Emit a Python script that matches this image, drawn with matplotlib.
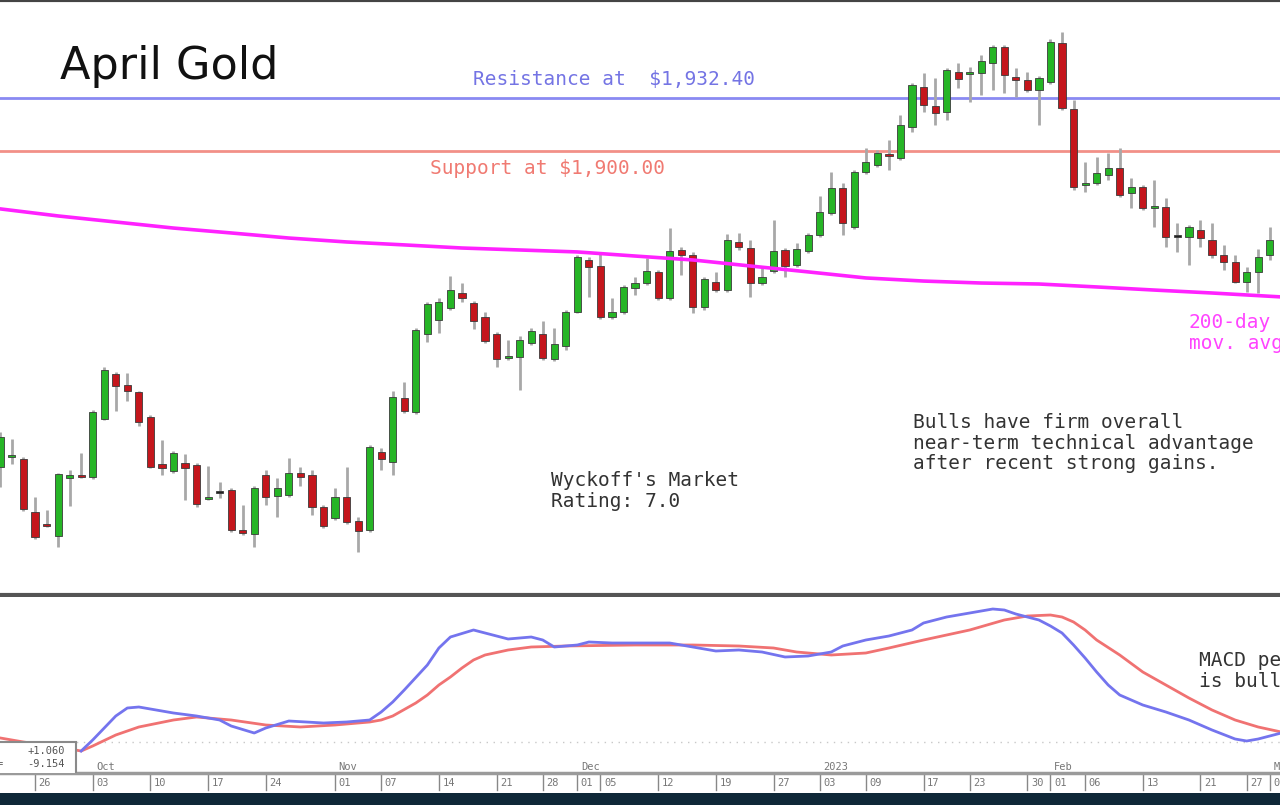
import matplotlib
matplotlib.use('Agg')
import matplotlib.pyplot as plt
import matplotlib.transforms as mtransforms
from matplotlib.patches import Rectangle
import numpy as np
import pandas as pd

# trading days on the chart (exchange holidays dropped), Sep 21 2022 .. Mar 2 2023
holidays = ['2022-11-24', '2022-12-26', '2023-01-02', '2023-01-16', '2023-02-20']
days = pd.bdate_range('2022-09-21', '2023-03-02')
days = days[~days.isin(pd.to_datetime(holidays))]

# daily candles, Sep 21 2022 .. Mar 1 2023
opens = [1706.9, 1713.0, 1711.8, 1679.4, 1672.0, 1664.7, 1700.1, 1702.0, 1700.8, 1736.2,
         1763.7, 1757.0, 1752.7, 1737.4, 1708.7, 1704.4, 1709.3, 1708.1, 1687.3, 1691.0,
         1692.8, 1668.4, 1665.9, 1702.0, 1689.1, 1689.8, 1703.2, 1702.0, 1682.4, 1675.7,
         1688.5, 1673.9, 1668.4, 1716.0, 1709.9, 1749.0, 1740.5, 1788.2, 1796.7, 1804.0,
         1813.2, 1807.1, 1798.5, 1788.2, 1773.5, 1774.1, 1782.7, 1788.2, 1772.9, 1780.8,
         1801.6, 1833.4, 1829.7, 1798.5, 1801.6, 1816.3, 1819.3, 1826.1, 1810.2, 1839.5,
         1836.4, 1804.7, 1819.9, 1815.0, 1844.4, 1840.7, 1819.3, 1826.7, 1839.5, 1830.3,
         1838.9, 1848.7, 1862.1, 1877.4, 1853.6, 1887.2, 1891.5, 1898.2, 1895.7, 1914.7,
         1939.1, 1927.5, 1923.8, 1948.3, 1947.1, 1947.7, 1953.8, 1963.6, 1945.2, 1943.4,
         1937.3, 1942.2, 1966.0, 1925.7, 1879.2, 1880.4, 1885.3, 1889.6, 1874.3, 1878.0,
         1865.2, 1865.8, 1847.4, 1847.4, 1851.7, 1845.6, 1836.4, 1832.2, 1819.9, 1826.1,
         1836.4]
highs = [1728.3, 1724.0, 1713.0, 1688.5, 1680.6, 1703.2, 1705.0, 1715.4, 1741.7, 1768.0,
         1764.9, 1764.3, 1753.3, 1738.7, 1723.4, 1716.6, 1714.8, 1709.3, 1707.5, 1697.7,
         1694.1, 1683.6, 1695.3, 1705.0, 1700.1, 1712.4, 1706.9, 1705.0, 1683.6, 1694.1,
         1706.9, 1676.3, 1720.3, 1718.5, 1753.3, 1758.8, 1791.8, 1807.7, 1810.2, 1823.6,
         1819.3, 1808.3, 1801.6, 1789.4, 1784.5, 1786.9, 1791.8, 1796.1, 1791.8, 1802.8,
         1836.4, 1835.2, 1838.3, 1810.2, 1818.1, 1823.0, 1834.6, 1827.3, 1852.9, 1841.3,
         1838.3, 1823.0, 1826.1, 1849.3, 1849.9, 1845.6, 1829.1, 1857.8, 1840.7, 1843.8,
         1849.9, 1872.5, 1887.2, 1880.4, 1888.4, 1901.8, 1900.6, 1906.7, 1922.0, 1941.6,
         1947.7, 1944.6, 1950.7, 1953.8, 1951.3, 1958.7, 1964.8, 1964.8, 1950.7, 1948.3,
         1945.8, 1968.5, 1972.7, 1931.2, 1893.3, 1896.3, 1898.8, 1901.8, 1883.5, 1879.2,
         1882.3, 1871.3, 1856.0, 1854.8, 1857.8, 1856.0, 1842.6, 1836.4, 1829.1, 1840.1,
         1853.6]
lows = [1694.6, 1708.7, 1680.0, 1662.9, 1670.2, 1658.0, 1683.0, 1700.1, 1699.5, 1735.6,
        1741.1, 1747.2, 1731.9, 1706.3, 1702.0, 1703.2, 1686.7, 1682.4, 1686.7, 1687.9,
        1667.1, 1665.3, 1658.0, 1683.6, 1676.3, 1688.5, 1695.3, 1677.5, 1669.6, 1674.5,
        1672.0, 1654.9, 1667.1, 1705.0, 1702.0, 1739.9, 1739.3, 1783.3, 1788.8, 1802.8,
        1807.7, 1791.2, 1782.7, 1768.0, 1772.3, 1753.9, 1781.4, 1772.3, 1771.7, 1778.4,
        1801.0, 1810.8, 1797.3, 1797.3, 1800.4, 1812.0, 1818.1, 1809.0, 1809.0, 1824.2,
        1801.0, 1802.8, 1813.8, 1813.8, 1839.5, 1810.8, 1818.1, 1825.4, 1823.0, 1829.1,
        1837.6, 1847.4, 1860.9, 1848.7, 1852.3, 1886.0, 1890.2, 1888.4, 1894.5, 1911.6,
        1923.8, 1915.9, 1918.9, 1938.5, 1930.0, 1934.2, 1937.3, 1935.5, 1933.0, 1936.1,
        1915.9, 1941.0, 1925.1, 1876.2, 1875.0, 1879.2, 1882.3, 1871.9, 1865.2, 1863.9,
        1853.6, 1841.3, 1838.3, 1830.3, 1841.3, 1834.6, 1827.3, 1819.3, 1813.8, 1813.2,
        1833.4]
closes = [1725.2, 1714.2, 1681.2, 1664.1, 1670.8, 1702.6, 1702.0, 1700.8, 1740.5, 1766.2,
          1756.4, 1753.3, 1734.4, 1706.9, 1706.3, 1715.4, 1706.3, 1684.2, 1688.5, 1691.0,
          1668.4, 1666.5, 1694.1, 1688.5, 1694.1, 1703.2, 1700.8, 1682.4, 1670.8, 1688.5,
          1673.2, 1667.8, 1719.1, 1711.8, 1749.7, 1741.1, 1790.6, 1806.5, 1807.7, 1815.0,
          1810.2, 1796.1, 1783.9, 1772.9, 1774.7, 1784.5, 1790.0, 1773.5, 1782.1, 1801.6,
          1835.2, 1829.1, 1798.5, 1801.6, 1816.9, 1819.3, 1826.7, 1810.2, 1838.9, 1836.4,
          1804.7, 1821.8, 1815.0, 1845.6, 1841.3, 1819.3, 1823.0, 1838.9, 1829.7, 1840.1,
          1848.7, 1862.7, 1877.4, 1856.0, 1887.2, 1893.3, 1898.8, 1897.0, 1915.9, 1940.3,
          1928.1, 1923.2, 1949.5, 1944.0, 1948.3, 1955.0, 1963.6, 1946.5, 1943.4, 1937.3,
          1944.6, 1966.6, 1926.3, 1878.0, 1880.4, 1886.6, 1889.6, 1873.1, 1878.0, 1865.2,
          1866.4, 1847.4, 1847.4, 1853.6, 1846.8, 1836.4, 1832.2, 1819.9, 1826.1, 1835.2,
          1845.6]

# 200-day moving average (trading-day position, price)
ma_pos = [0, 5, 10, 15, 20, 25, 30, 35, 40, 45, 50, 55, 60, 65, 70, 75, 80, 85, 90, 95, 100, 105, 111]
ma_vals = [1864.6, 1860.3, 1856.6, 1852.9, 1849.9, 1846.8, 1844.4, 1842.6, 1840.7, 1839.5,
           1838.3, 1835.8, 1833.4, 1829.7, 1826.1, 1822.4, 1820.5, 1819.3, 1818.7, 1816.9,
           1815.0, 1813.2, 1810.8]

resistance = 1932.40
support = 1900.00

# MACD line and signal line (trading-day position, value)
macd_pos = [7, 8, 9, 10, 11, 12, 13, 15, 17, 19, 20, 22, 23, 25, 28, 30, 32, 33, 34, 35,
            37, 38, 39, 41, 42, 43, 44, 46, 47, 48, 50, 51, 53, 55, 58, 60, 62, 64, 66, 68,
            70, 72, 73, 75, 77, 79, 80, 82, 84, 86, 87, 88, 90, 91, 92, 93, 94, 95, 96, 97,
            99, 101, 103, 105, 107, 108, 109, 111]
macd_vals = [-2.7, 0.6, 4.2, 7.8, 10.2, 10.5, 9.9, 8.7, 7.8, 6.6, 4.8, 2.7, 4.2, 6.3, 5.7,
             6.0, 6.6, 9.0, 12.0, 15.6, 23.1, 28.2, 31.5, 33.6, 32.7, 31.8, 30.9, 31.5, 30.6,
             28.5, 29.1, 30.0, 29.7, 29.7, 29.7, 28.5, 27.3, 27.6, 27.0, 25.5, 25.8, 27.0,
             28.8, 30.6, 31.8, 33.6, 35.7, 37.5, 38.7, 39.9, 39.6, 38.4, 36.6, 34.8, 32.7,
             29.1, 25.2, 21.0, 17.1, 14.1, 11.1, 9.0, 6.6, 3.6, 0.9, 0.3, 0.9, 2.7]
signal_pos = [0, 2, 5, 7, 8, 10, 12, 15, 17, 20, 23, 26, 29, 32, 33, 34, 36, 37, 38, 39,
              40, 41, 42, 44, 46, 49, 55, 60, 64, 67, 69, 72, 75, 77, 80, 84, 87, 89, 91,
              92, 93, 94, 95, 97, 99, 101, 103, 105, 107, 109, 111]
signal_vals = [1.2, 0.0, -1.5, -2.7, -1.2, 2.1, 4.5, 6.6, 7.5, 6.6, 5.1, 4.5, 5.1, 6.0, 6.6,
               7.8, 11.7, 14.1, 17.1, 19.5, 22.2, 24.6, 26.1, 27.6, 28.5, 28.8, 29.1, 29.1,
               28.8, 28.2, 27.0, 26.1, 26.7, 28.2, 30.6, 33.6, 36.6, 37.8, 38.1, 37.5, 36.0,
               33.6, 30.6, 26.1, 21.0, 17.1, 13.2, 9.6, 6.6, 4.5, 3.0]

tick_dates = ['2022-09-26', '2022-10-03', '2022-10-10', '2022-10-17', '2022-10-24',
              '2022-11-01', '2022-11-07', '2022-11-14', '2022-11-21', '2022-11-28',
              '2022-12-01', '2022-12-05', '2022-12-12', '2022-12-19', '2022-12-27',
              '2023-01-03', '2023-01-09', '2023-01-17', '2023-01-23', '2023-01-30',
              '2023-02-01', '2023-02-06', '2023-02-13', '2023-02-21', '2023-02-27',
              '2023-03-01']
month_dates = ['2022-10-03', '2022-11-01', '2022-12-01', '2023-01-03', '2023-02-01', '2023-03-01']
month_labels = ['Oct', 'Nov', 'Dec', '2023', 'Feb', 'Mar']

mono = 'DejaVu Sans Mono'


def px(x, y):
    # pixel position -> figure fraction
    return x / 1280.0, 1 - y / 805.0


fig = plt.figure(figsize=(12.8, 8.05), dpi=100)
fig.patch.set_facecolor('white')
ax = fig.add_axes([0, 1 - 595 / 805, 1, 595 / 805])
ax2 = fig.add_axes([0, 32 / 805, 1, 176 / 805])

xlim = (-0.033, 110.89)

# --- price panel ---
pos = np.arange(len(opens))
o = np.array(opens)
c = np.array(closes)
up = c > o
down = c < o
body_col = np.where(up, '#26b526', np.where(down, '#c4161c', '#222222'))
bottom = np.minimum(o, c)
height = np.maximum(np.abs(c - o), 1.2)

ax.vlines(pos, lows, highs, color='#a8a8a8', lw=2, zorder=2)
ax.bar(pos, height, 0.62, bottom, color=body_col, edgecolor='#3a3a3a', lw=0.6, zorder=3)

ax.axhline(resistance, color='#8a8af2', lw=2, zorder=1)
ax.axhline(support, color='#f29088', lw=2, zorder=1)
ma_x = [days.get_loc(days[p]) for p in ma_pos]
ax.plot(ma_x, ma_vals, color='#ff22ff', lw=2.6, zorder=4)

ax.set_xlim(*xlim)
ax.set_ylim(1628.6, 1992.3)
ax.set_xticks([])
ax.set_yticks([])
for s in ['left', 'right']:
    ax.spines[s].set_visible(False)
ax.spines['top'].set_color('#444444')
ax.spines['top'].set_linewidth(3)
ax.spines['bottom'].set_color('#555555')
ax.spines['bottom'].set_linewidth(3)

# --- MACD panel ---
ax2.plot(signal_pos, signal_vals, color='#f07272', lw=2, zorder=2)
ax2.plot(macd_pos, macd_vals, color='#7474ee', lw=2, zorder=3)
ax2.axhline(0, color='#c8c8c8', lw=1, ls=(0, (1, 4)), zorder=1)
ax2.add_patch(Rectangle((-2, -12), 8.55, 12, facecolor='white', edgecolor='#8a8a8a',
                        lw=1.5, zorder=5))
ax2.text(5.6, -2.6, '+1.060', ha='right', va='center', fontsize=7.5, family=mono,
         color='#555555', zorder=6)
ax2.text(5.6, -6.6, '-9.154', ha='right', va='center', fontsize=7.5, family=mono,
         color='#555555', zorder=6)
ax2.text(0.25, -6.6, '=', ha='right', va='center', fontsize=7.5, family=mono,
         color='#555555', zorder=6)
ax2.set_xlim(*xlim)
ax2.set_ylim(-9.3, 43.5)
ax2.set_xticks([])
ax2.set_yticks([])
for s in ['left', 'right', 'top']:
    ax2.spines[s].set_visible(False)
ax2.spines['bottom'].set_color('#9a9a9a')
ax2.spines['bottom'].set_linewidth(2.5)

# date ticks below the MACD panel
trans = mtransforms.blended_transform_factory(ax2.transData, ax2.transAxes)
for d in tick_dates:
    t = days.get_loc(pd.Timestamp(d))
    ax2.plot([t, t], [-0.012, -0.095], color='#888888', lw=1, transform=trans, clip_on=False)
    ax2.text(t + 0.3, -0.055, pd.Timestamp(d).strftime('%d'), transform=trans,
             ha='left', va='center', fontsize=7.5, family=mono, color='#777777')
for d, lab in zip(month_dates, month_labels):
    t = days.get_loc(pd.Timestamp(d))
    ax2.text(t + 0.3, 0.035, lab, transform=trans, ha='left', va='center',
             fontsize=7.5, family=mono, color='#777777')

# --- annotations ---
fig.text(*px(60, 67), 'April Gold', fontsize=32, color='#111111', va='center', ha='left')
fig.text(*px(473, 80), 'Resistance at  $1,932.40', fontsize=14, family=mono,
         color='#7474e4', va='center', ha='left')
fig.text(*px(430, 169), 'Support at $1,900.00', fontsize=14, family=mono,
         color='#f07a72', va='center', ha='left')
fig.text(*px(1189, 313), '200-day\nmov. avg.', fontsize=14, family=mono,
         color='#ff44ff', va='top', ha='left', linespacing=1.1)
fig.text(*px(913, 413), 'Bulls have firm overall\nnear-term technical advantage\nafter recent strong gains.',
         fontsize=14, family=mono, color='#333333', va='top', ha='left', linespacing=1.1)
fig.text(*px(551, 471), "Wyckoff's Market\nRating: 7.0", fontsize=14, family=mono,
         color='#333333', va='top', ha='left', linespacing=1.1)
fig.text(*px(1199, 651), 'MACD perspective\nis bullish.', fontsize=14, family=mono,
         color='#333333', va='top', ha='left', linespacing=1.1)

# dark strip along the bottom edge
fig.add_artist(Rectangle((0, 0), 1, 12 / 805, transform=fig.transFigure,
                         facecolor='#0f2838', edgecolor='none'))

fig.savefig('out.png', dpi=100)
